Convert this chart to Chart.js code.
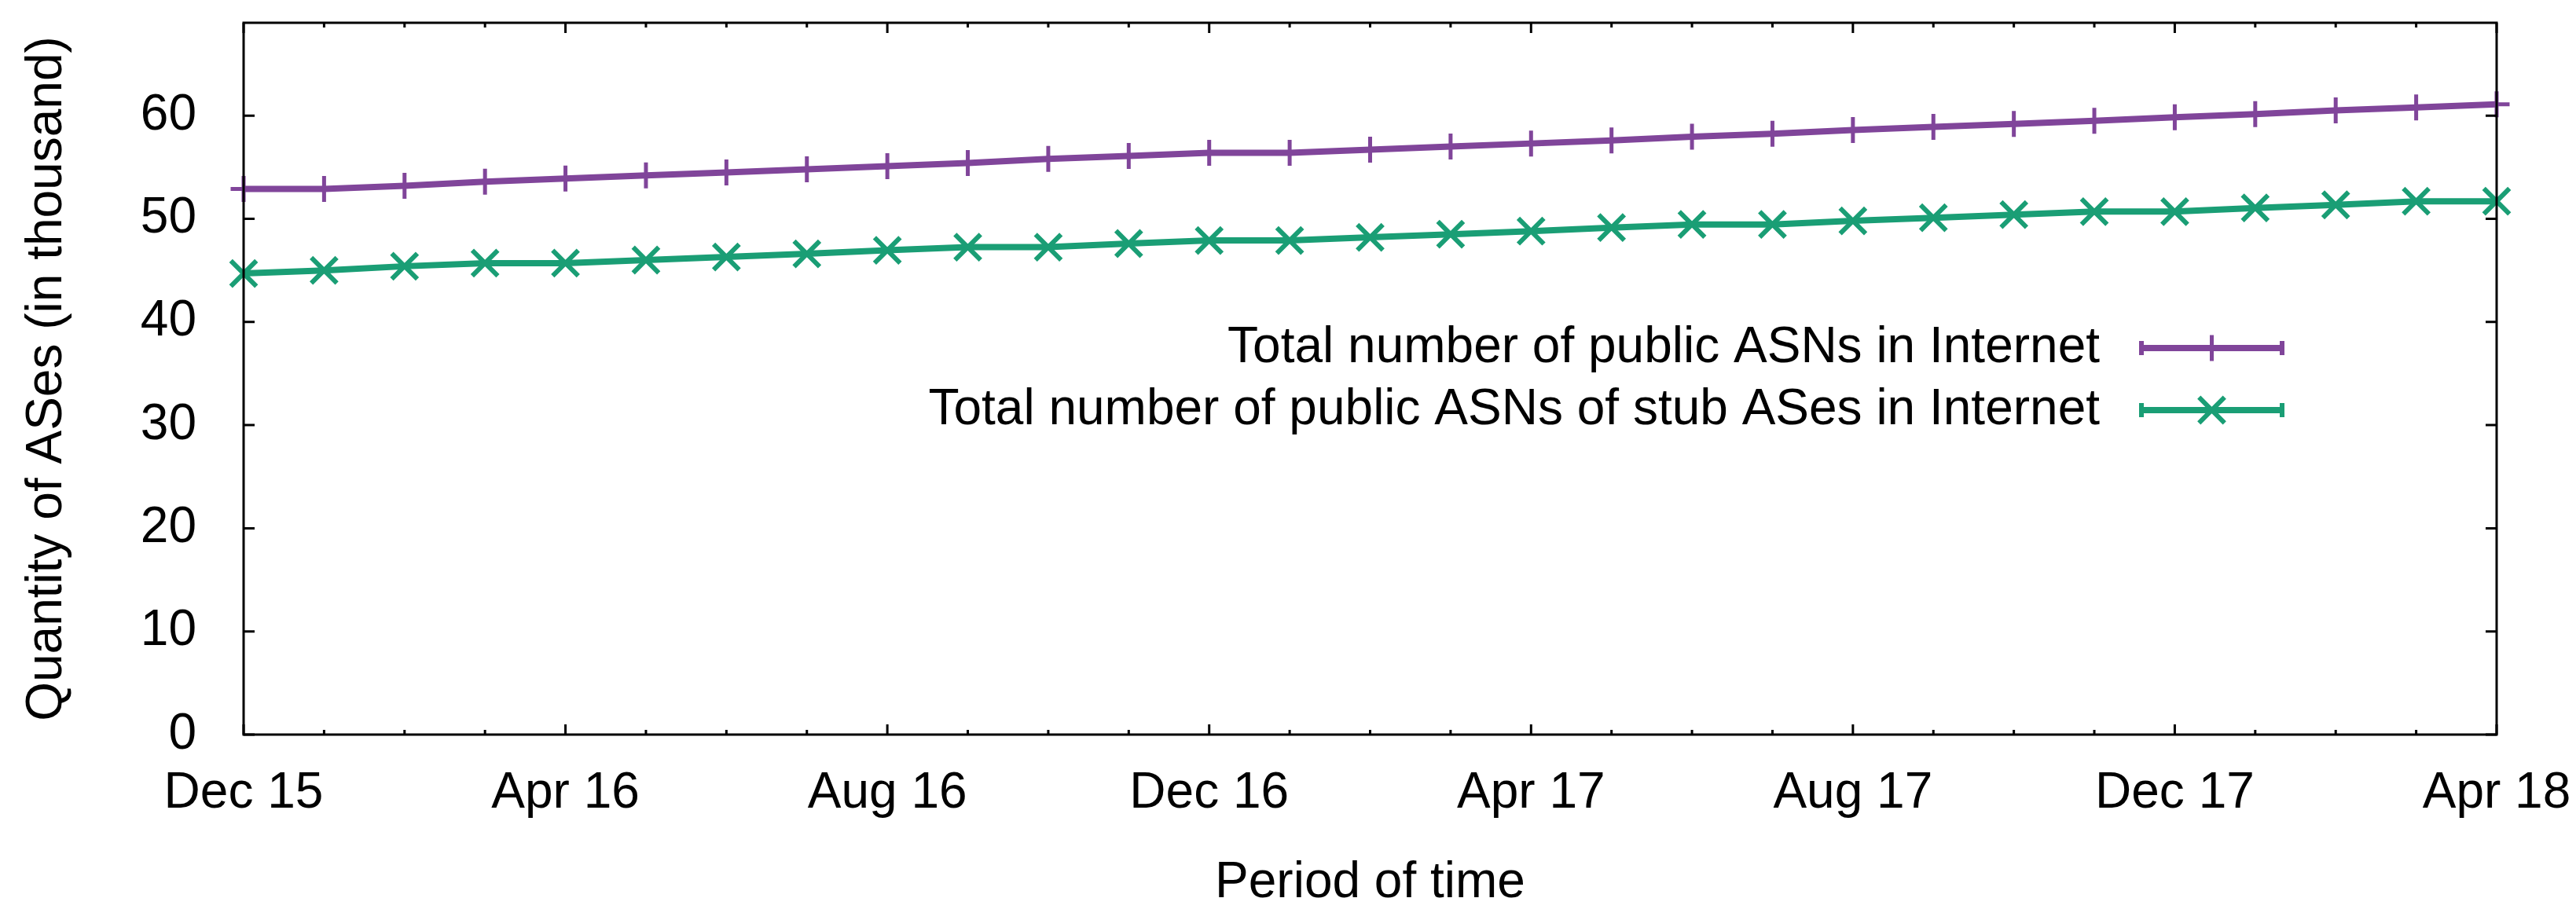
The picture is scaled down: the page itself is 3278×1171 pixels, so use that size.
<!DOCTYPE html>
<html>
<head>
<meta charset="utf-8">
<script src="https://cdn.jsdelivr.net/npm/chart.js@4/dist/chart.umd.min.js"></script>
<style>
  html, body { margin: 0; padding: 0; background: #fff; }
  canvas { display: block; }
</style>
</head>
<body>
<canvas id="asnChart" width="3278" height="1171"></canvas>
<script>
// monthly samples, Dec 2015 .. Apr 2018
const months = [
  'Dec 15', 'Jan 16', 'Feb 16', 'Mar 16', 'Apr 16', 'May 16', 'Jun 16', 'Jul 16',
  'Aug 16', 'Sep 16', 'Oct 16', 'Nov 16', 'Dec 16', 'Jan 17', 'Feb 17', 'Mar 17',
  'Apr 17', 'May 17', 'Jun 17', 'Jul 17', 'Aug 17', 'Sep 17', 'Oct 17', 'Nov 17',
  'Dec 17', 'Jan 18', 'Feb 18', 'Mar 18', 'Apr 18'
];
const tickLabels = ['Dec 15', 'Apr 16', 'Aug 16', 'Dec 16', 'Apr 17', 'Aug 17', 'Dec 17', 'Apr 18'];
const yTicks = [0, 10, 20, 30, 40, 50, 60];

// thousands of ASNs
const totalAsns = [
  52.9, 52.9, 53.2, 53.6, 53.9, 54.2, 54.5, 54.8, 55.1, 55.4,
  55.8, 56.1, 56.4, 56.4, 56.7, 57.0, 57.3, 57.6, 57.95, 58.25,
  58.6, 58.9, 59.2, 59.5, 59.85, 60.15, 60.5, 60.8, 61.1
];
const stubAsns = [
  44.7, 45.0, 45.4, 45.7, 45.7, 46.0, 46.3, 46.6, 46.95, 47.25,
  47.25, 47.6, 47.9, 47.9, 48.2, 48.5, 48.8, 49.15, 49.45, 49.45,
  49.8, 50.1, 50.4, 50.7, 50.7, 51.05, 51.35, 51.7, 51.7
];

const seriesNames = [
  'Total number of public ASNs in Internet',
  'Total number of public ASNs of stub ASes in Internet'
];
const purple = '#80459a';
const green = '#1a9e75';

Chart.defaults.font.family = "'Liberation Sans', Arial, sans-serif";
Chart.defaults.font.size = 64;
Chart.defaults.color = '#000';

// gnuplot style frame with inward ticks, mirrored on top/right
const framePlugin = {
  id: 'frame',
  afterDraw(chart) {
    const { ctx, chartArea: a, scales } = chart;
    ctx.save();
    ctx.strokeStyle = '#000';
    ctx.lineWidth = 3;
    ctx.strokeRect(a.left, a.top, a.right - a.left, a.bottom - a.top);

    ctx.beginPath();
    yTicks.forEach(v => {
      const y = scales.y.getPixelForValue(v);
      ctx.moveTo(a.left, y); ctx.lineTo(a.left + 14, y);
      ctx.moveTo(a.right, y); ctx.lineTo(a.right - 14, y);
    });
    months.forEach((m, i) => {
      const x = scales.x.getPixelForValue(i);
      const len = tickLabels.includes(m) ? 13 : 6;
      ctx.moveTo(x, a.bottom); ctx.lineTo(x, a.bottom - len);
      ctx.moveTo(x, a.top); ctx.lineTo(x, a.top + len);
    });
    ctx.stroke();
    ctx.restore();
  }
};

// key drawn inside the plot, text left of the sample
const keyPlugin = {
  id: 'key',
  afterDraw(chart) {
    const { ctx } = chart;
    const textRight = 2672, x0 = 2722, x1 = 2907, rowY = [443, 522];
    ctx.save();
    chart.data.datasets.forEach((ds, i) => {
      const y = rowY[i];
      ctx.fillStyle = '#000';
      ctx.font = "64px 'Liberation Sans', Arial, sans-serif";
      ctx.textAlign = 'right';
      ctx.textBaseline = 'middle';
      ctx.fillText(ds.label, textRight, y);

      ctx.strokeStyle = ds.borderColor;
      ctx.lineWidth = 8;
      ctx.beginPath();
      ctx.moveTo(x0, y); ctx.lineTo(x1, y);
      ctx.stroke();
      ctx.lineWidth = 6;
      ctx.beginPath();
      ctx.moveTo(x0 + 3, y - 9); ctx.lineTo(x0 + 3, y + 9);
      ctx.moveTo(x1 - 3, y - 9); ctx.lineTo(x1 - 3, y + 9);
      ctx.stroke();

      ctx.lineWidth = ds.pointBorderWidth;
      Chart.helpers.drawPoint(ctx, {
        pointStyle: ds.pointStyle,
        radius: ds.pointRadius,
        rotation: 0,
        borderWidth: ds.pointBorderWidth
      }, (x0 + x1) / 2, y);
    });
    ctx.restore();
  }
};

new Chart(document.getElementById('asnChart'), {
  type: 'line',
  data: {
    labels: months,
    datasets: [
      {
        label: seriesNames[0],
        data: totalAsns,
        borderColor: purple,
        backgroundColor: purple,
        borderWidth: 8,
        pointStyle: 'cross',
        pointRadius: 16.5,
        pointBorderWidth: 5,
        tension: 0,
        clip: false
      },
      {
        label: seriesNames[1],
        data: stubAsns,
        borderColor: green,
        backgroundColor: green,
        borderWidth: 8,
        pointStyle: 'crossRot',
        pointRadius: 23,
        pointBorderWidth: 6,
        tension: 0,
        clip: false
      }
    ]
  },
  options: {
    responsive: false,
    devicePixelRatio: 1,
    animation: false,
    layout: { padding: { left: 0, right: 101, top: 28, bottom: 0 } },
    plugins: {
      legend: { display: false },
      tooltip: { enabled: false }
    },
    scales: {
      x: {
        type: 'category',
        offset: false,
        grid: { display: false, drawTicks: false },
        border: { display: false },
        ticks: {
          autoSkip: false,
          maxRotation: 0,
          padding: 37,
          callback(value) {
            const m = months[value];
            return tickLabels.includes(m) ? m : '';
          }
        },
        title: { display: true, text: 'Period of time', padding: { top: 8, bottom: 8 } },
        afterFit(scale) {
          scale.height = 236;
          scale.paddingLeft = 0;
          scale.paddingRight = 0;
        }
      },
      y: {
        min: 0,
        max: 69,
        grid: { display: false, drawTicks: false },
        border: { display: false },
        ticks: { padding: 60 },
        afterBuildTicks(scale) { scale.ticks = yTicks.map(v => ({ value: v })); },
        title: { display: true, text: 'Quantity of ASes (in thousand)', padding: { top: 22, bottom: 22 } },
        afterFit(scale) {
          scale.width = 310;
          scale.paddingTop = 0;
          scale.paddingBottom = 0;
        }
      }
    }
  },
  plugins: [framePlugin, keyPlugin]
});
</script>
</body>
</html>
